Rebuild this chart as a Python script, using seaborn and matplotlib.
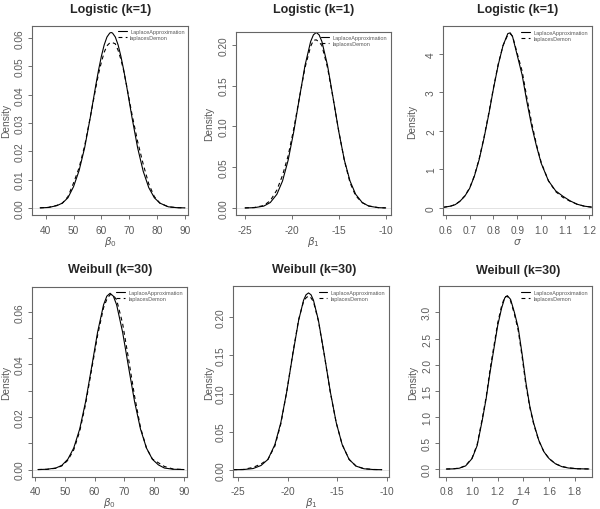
import numpy as np
import pandas as pd
import seaborn as sns
import matplotlib
matplotlib.use("Agg")
import matplotlib.pyplot as plt

# posterior densities
# Logistic (k=1), beta0
lg_b0_x = [38, 41, 44, 46, 48, 50, 52, 54, 56, 58, 59, 60, 61, 62, 63, 63.5, 64, 65, 66, 67, 68, 69, 71, 73, 75,
           77, 79, 81, 84, 87, 90]
lg_b0_la = [0.00003, 0.00016, 0.0008, 0.0017, 0.0036, 0.0075, 0.0132, 0.0213, 0.0319, 0.0434, 0.0488, 0.0536,
            0.0576, 0.0604, 0.0618, 0.062, 0.0618, 0.0604, 0.0576, 0.0536, 0.0488, 0.0434, 0.0319, 0.0213, 0.013,
            0.0072, 0.0036, 0.0017, 0.0004, 0.0001, 0.00002]
lg_b0_ld = [0.00003, 0.0002, 0.0009, 0.0017, 0.004, 0.0088, 0.0142, 0.022, 0.032, 0.0425, 0.0475, 0.0515,
            0.055, 0.0573, 0.0583, 0.0585, 0.0584, 0.058, 0.0557, 0.0525, 0.0485, 0.0435, 0.033, 0.0235, 0.0155,
            0.0085, 0.004, 0.0017, 0.0004, 0.0001, 0.00002]

# Logistic (k=1), beta1
lg_b1_x = [-25, -24, -23, -22.3, -21.6, -21, -20.4, -19.8, -19.2, -18.6, -18, -17.7, -17.4, -17.1, -16.8, -16.2,
           -15.6, -15, -14.4, -13.8, -13.2, -12.5, -11.8, -10.8, -10]
lg_b1_la = [0.00005, 0.0004, 0.0023, 0.0067, 0.0168, 0.033, 0.0585, 0.0936, 0.1346, 0.1747, 0.204, 0.2122, 0.215,
            0.2122, 0.204, 0.1747, 0.1346, 0.0936, 0.0585, 0.033, 0.0168, 0.0067, 0.0023, 0.0004, 0.0001]
lg_b1_ld = [0.0001, 0.0006, 0.003, 0.009, 0.022, 0.04, 0.064, 0.097, 0.135, 0.172, 0.198, 0.2055, 0.206, 0.2035,
            0.199, 0.172, 0.134, 0.094, 0.058, 0.031, 0.015, 0.0065, 0.0025, 0.0005, 0.0001]

# Logistic (k=1), sigma
lg_sig_x = [0.59, 0.62, 0.64, 0.66, 0.68, 0.70, 0.72, 0.74, 0.76, 0.78, 0.80, 0.82, 0.84, 0.86, 0.87, 0.88, 0.90,
            0.92, 0.94, 0.96, 0.98, 1.00, 1.03, 1.06, 1.09, 1.12, 1.15, 1.18, 1.21]
lg_sig_la = [0.01, 0.04, 0.08, 0.17, 0.3, 0.5, 0.82, 1.25, 1.8, 2.42, 3.1, 3.72, 4.22, 4.53, 4.55, 4.45, 3.95,
             3.45, 2.75, 2.12, 1.6, 1.15, 0.7, 0.44, 0.3, 0.18, 0.09, 0.04, 0.015]
lg_sig_ld = [0.01, 0.04, 0.08, 0.17, 0.31, 0.51, 0.83, 1.27, 1.82, 2.45, 3.12, 3.74, 4.22, 4.5, 4.53, 4.46, 4.0,
             3.55, 2.85, 2.2, 1.64, 1.17, 0.7, 0.42, 0.27, 0.17, 0.09, 0.04, 0.015]

# Weibull (k=30), beta0
wb_b0_x = [41, 44, 47, 49, 51, 53, 55, 57, 59, 61, 63, 64.1, 65.2, 66.3, 67.4, 69.4, 71.4, 73.4, 75.4, 77.4,
           79.4, 81.4, 83.4, 86.4, 90]
wb_b0_la = [0.00002, 0.00012, 0.0006, 0.0016, 0.0039, 0.0082, 0.0154, 0.0259, 0.0389, 0.0522, 0.0626, 0.0659,
            0.067, 0.0659, 0.0626, 0.0522, 0.0389, 0.0259, 0.0154, 0.0082, 0.0039, 0.0018, 0.0006, 0.00012,
            0.00002]
wb_b0_ld = [0.00002, 0.0001, 0.0005, 0.0014, 0.0035, 0.0075, 0.0145, 0.025, 0.038, 0.051, 0.0615, 0.0647,
            0.0665, 0.0662, 0.0645, 0.0555, 0.042, 0.028, 0.016, 0.0082, 0.004, 0.0026, 0.0012, 0.0002, 0.00002]

# Weibull (k=30), beta1
wb_b1_x = [-25.5, -24.5, -23.5, -22.7, -22, -21.3, -20.7, -20.1, -19.5, -18.9, -18.4, -18.15, -17.9, -17.65,
           -17.4, -16.9, -16.3, -15.7, -15.1, -14.5, -13.8, -13.1, -12.3, -11.3, -10.5]
wb_b1_la = [0.00002, 0.00015, 0.0015, 0.0055, 0.0135, 0.0329, 0.0617, 0.1024, 0.1505, 0.196, 0.2224, 0.2296,
            0.232, 0.2296, 0.2224, 0.196, 0.1505, 0.1024, 0.0617, 0.0329, 0.0135, 0.0047, 0.0012, 0.00015, 0.00002]
wb_b1_ld = [0.00003, 0.0003, 0.003, 0.0075, 0.0135, 0.031, 0.06, 0.1025, 0.152, 0.197, 0.221, 0.2255, 0.228,
            0.2255, 0.2205, 0.195, 0.15, 0.1015, 0.0615, 0.033, 0.0135, 0.0048, 0.0013, 0.0003, 0.00005]

# Weibull (k=30), sigma
wb_sig_x = [0.80, 0.85, 0.90, 0.95, 1.00, 1.04, 1.08, 1.11, 1.14, 1.17, 1.20, 1.23, 1.255, 1.275, 1.30, 1.33,
            1.36, 1.39, 1.42, 1.45, 1.48, 1.52, 1.56, 1.60, 1.65, 1.70, 1.75, 1.82, 1.91]
wb_sig_la = [0.0, 0.003, 0.015, 0.06, 0.2, 0.45, 0.94, 1.35, 1.85, 2.3, 2.75, 3.08, 3.28, 3.32, 3.25, 3.0,
             2.7, 2.2, 1.65, 1.2, 0.88, 0.55, 0.33, 0.2, 0.1, 0.045, 0.02, 0.006, 0.001]
wb_sig_ld = [0.0, 0.004, 0.017, 0.065, 0.21, 0.47, 0.97, 1.38, 1.9, 2.35, 2.8, 3.12, 3.3, 3.31, 3.22, 2.97,
             2.65, 2.15, 1.6, 1.18, 0.86, 0.54, 0.33, 0.2, 0.1, 0.05, 0.022, 0.006, 0.001]

titles = ["Logistic (k=1)"] * 3 + ["Weibull (k=30)"] * 3
xlabels = [r"$\beta_0$", r"$\beta_1$", r"$\sigma$"] * 2
method_names = ["LaplaceApproximation", "laplacesDemon"]

xticks = [[40, 50, 60, 70, 80, 90], [-25, -20, -15, -10], [0.6, 0.7, 0.8, 0.9, 1.0, 1.1, 1.2],
          [40, 50, 60, 70, 80, 90], [-25, -20, -15, -10], [0.8, 1.0, 1.2, 1.4, 1.6, 1.8]]
yticks = [[0.00, 0.01, 0.02, 0.03, 0.04, 0.05, 0.06], [0.00, 0.05, 0.10, 0.15, 0.20], [0, 1, 2, 3, 4],
          [0.00, 0.01, 0.02, 0.03, 0.04, 0.05, 0.06], [0.00, 0.05, 0.10, 0.15, 0.20],
          [0.0, 0.5, 1.0, 1.5, 2.0, 2.5, 3.0]]
ytick_labels = [["0.00", "0.01", "0.02", "0.03", "0.04", "0.05", "0.06"],
                ["0.00", "0.05", "0.10", "0.15", "0.20"], ["0", "1", "2", "3", "4"],
                ["0.00", "", "0.02", "", "0.04", "", "0.06"],
                ["0.00", "0.05", "0.10", "0.15", "0.20"],
                ["0.0", "0.5", "1.0", "1.5", "2.0", "2.5", "3.0"]]
xlims = [(35.2, 91.2), (-25.96, -9.43), (0.59, 1.211), (39.1, 90.9), (-25.5, -9.77), (0.745, 1.932)]
ylims = [(-0.0025, 0.0644), (-0.0086, 0.216), (-0.19, 4.72), (-0.0027, 0.0695), (-0.0092, 0.2407), (-0.147, 3.5)]

curves = [(lg_b0_x, lg_b0_la, lg_b0_ld), (lg_b1_x, lg_b1_la, lg_b1_ld), (lg_sig_x, lg_sig_la, lg_sig_ld),
          (wb_b0_x, wb_b0_la, wb_b0_ld), (wb_b1_x, wb_b1_la, wb_b1_ld), (wb_sig_x, wb_sig_la, wb_sig_ld)]

# panel boxes in pixels (left, right, top, bottom) - the panels were pasted separately
boxes = [(32.3, 188.3, 26.7, 216), (236, 391, 32.7, 216), (443.3, 591.7, 27.3, 216),
         (32.3, 186.7, 287.7, 477.7), (233.3, 389, 287.3, 477.7), (439.3, 591.7, 287.3, 477.7)]
title_pos = [(110.8, 10), (314, 10), (517.3, 10), (110.5, 270.5), (313.8, 270.5), (518.3, 271)]
ylab_off = [21, 21.5, 26, 21.5, 19, 21.5]
xlab_off = [19, 19, 21, 18, 18, 19]

sns.set_style("white")
plt.rcParams["font.family"] = ["Liberation Sans", "DejaVu Sans"]
plt.rcParams["mathtext.fontset"] = "dejavusans"
plt.rcParams["axes.unicode_minus"] = False

W, H = 600, 510
fig = plt.figure(figsize=(W / 100, H / 100), dpi=100)
grey = "#5a5a5a"

for i in range(6):
    l, r, t, b = boxes[i]
    ax = fig.add_axes([l / W, 1 - b / H, (r - l) / W, (b - t) / H])
    xs, la, ld = curves[i]
    df = pd.DataFrame({"x": xs + xs, "density": la + ld,
                       "method": [method_names[0]] * len(xs) + [method_names[1]] * len(xs)})
    sns.lineplot(data=df[df.method == method_names[0]], x="x", y="density", ax=ax, color="black",
                 lw=0.8, label=method_names[0], errorbar=None)
    sns.lineplot(data=df[df.method == method_names[1]], x="x", y="density", ax=ax, color="black",
                 lw=0.8, dashes=(3.5, 3), label=method_names[1], errorbar=None)
    ax.legend(loc="upper right", fontsize=4, frameon=False, handlelength=1.6, handletextpad=0.6,
              labelspacing=0.15, borderaxespad=0.25, labelcolor=grey)
    ax.axhline(0, color="#cccccc", lw=0.4, zorder=0)

    ax.set_xlim(*xlims[i])
    ax.set_ylim(*ylims[i])
    ax.set_xticks(xticks[i])
    ax.set_xticklabels([str(v) for v in xticks[i]])
    ax.set_yticks(yticks[i])
    ax.set_yticklabels(ytick_labels[i], rotation=90, va="center")
    ax.tick_params(axis="both", direction="out", length=3, width=0.6, color=grey, labelcolor=grey,
                   labelsize=7.3, pad=2.3, bottom=True, left=True)
    ax.tick_params(axis="x", pad=4)
    for s in ax.spines.values():
        s.set_color("#666666")
        s.set_linewidth(0.8)

    ax.set_ylabel("Density", fontsize=7.3, color=grey)
    ax.set_xlabel(xlabels[i], fontsize=7.5, color=grey)
    w, h = r - l, b - t
    ax.yaxis.set_label_coords(-ylab_off[i] / w, 0.5)
    ax.xaxis.set_label_coords(0.5, -xlab_off[i] / h)

    tx, ty = title_pos[i]
    fig.text(tx / W, 1 - ty / H, titles[i], ha="center", va="center", fontsize=9, fontweight="bold")

fig.savefig("out.png", dpi=100)
